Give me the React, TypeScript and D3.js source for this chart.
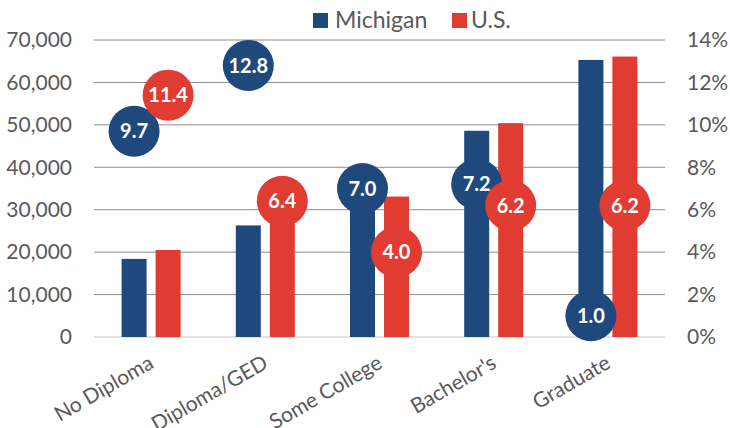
import { useMemo } from 'react'
import * as d3 from 'd3'

const categories = ['No Diploma', 'Diploma/GED', 'Some College', "Bachelor's", 'Graduate']
const seriesNames = ['Michigan', 'U.S.']
// median earnings (left axis, dollars)
const michiganEarnings = [18400, 26300, 32500, 48600, 65300]
const usEarnings = [20500, 30500, 33100, 50400, 66100]
// unemployment rate (right axis, percent)
const michiganRate = [9.7, 12.8, 7.0, 7.2, 1.0]
const usRate = [11.4, 6.4, 4.0, 6.2, 6.2]
const leftTicks = [0, 10000, 20000, 30000, 40000, 50000, 60000, 70000]
const rightTicks = [0, 2, 4, 6, 8, 10, 12, 14]

const width = 730
const height = 428
const plot = { left: 94, right: 665, top: 40, bottom: 337 }
const colors: Record<string, string> = { Michigan: '#1f497d', 'U.S.': '#e03c31' }
const textColor = '#595959'
const font = 'Lato, "Open Sans", sans-serif'

export default function App() {
  const scales = useMemo(() => {
    const x0 = d3.scaleBand<string>().domain(categories).range([plot.left, plot.right])
    const bw = x0.bandwidth()
    const x1 = d3
      .scaleBand<string>()
      .domain(seriesNames)
      .range([bw / 2 - 29.5, bw / 2 + 29.5])
      .paddingInner(0.2647)
    const yLeft = d3.scaleLinear().domain([0, 70000]).range([plot.bottom, plot.top])
    const yRight = d3.scaleLinear().domain([0, 14]).range([plot.bottom, plot.top])
    return { x0, x1, yLeft, yRight }
  }, [])

  const { x0, x1, yLeft, yRight } = scales
  const earnings: Record<string, number[]> = { Michigan: michiganEarnings, 'U.S.': usEarnings }
  const rates: Record<string, number[]> = { Michigan: michiganRate, 'U.S.': usRate }
  const fmt = d3.format(',')

  return (
    <svg
      width={width}
      height={height}
      style={{ position: 'absolute', left: 0, top: 0, fontFamily: font }}
    >
      <rect width={width} height={height} fill="#fff" />

      {leftTicks.map((t) => (
        <line
          key={t}
          x1={plot.left}
          x2={plot.right}
          y1={yLeft(t)}
          y2={yLeft(t)}
          stroke={t === 0 ? '#d9d9d9' : '#8c8c8c'}
          strokeWidth={t === 0 ? 1.5 : 1}
        />
      ))}

      {leftTicks.map((t) => (
        <text key={t} x={72} y={yLeft(t)} dy="0.35em" textAnchor="end" fontSize={21} fill={textColor}>
          {fmt(t)}
        </text>
      ))}
      {rightTicks.map((t) => (
        <text key={t} x={687} y={yRight(t)} dy="0.35em" textAnchor="start" fontSize={21} fill={textColor}>
          {`${t}%`}
        </text>
      ))}

      {seriesNames.map((s) => (
        <g key={s}>
          {categories.map((c, i) => (
            <rect
              key={c}
              x={(x0(c) ?? 0) + (x1(s) ?? 0)}
              y={yLeft(earnings[s][i])}
              width={x1.bandwidth()}
              height={plot.bottom - yLeft(earnings[s][i])}
              fill={colors[s]}
            />
          ))}
        </g>
      ))}

      {seriesNames.map((s) => (
        <g key={s}>
          {categories.map((c, i) => {
            const cx = (x0(c) ?? 0) + (x1(s) ?? 0) + x1.bandwidth() / 2
            const cy = yRight(rates[s][i])
            return (
              <g key={c}>
                <circle cx={cx} cy={cy} r={25.5} fill={colors[s]} />
                <text
                  x={cx}
                  y={cy}
                  dy="0.36em"
                  textAnchor="middle"
                  fontSize={20}
                  fontWeight="bold"
                  fill="#fff"
                >
                  {rates[s][i].toFixed(1)}
                </text>
              </g>
            )
          })}
        </g>
      ))}

      {categories.map((c) => (
        <text
          key={c}
          transform={`translate(${(x0(c) ?? 0) + x0.bandwidth() / 2 + 4},${367}) rotate(-30)`}
          textAnchor="end"
          fontSize={21}
          fill={textColor}
        >
          {c}
        </text>
      ))}

      <g>
        <rect x={313} y={13} width={15} height={15} fill={colors['Michigan']} />
        <text x={335} y={28} fontSize={23} fill={textColor}>
          Michigan
        </text>
        <rect x={452} y={13} width={15} height={15} fill={colors['U.S.']} />
        <text x={471} y={28} fontSize={23} fill={textColor}>
          U.S.
        </text>
      </g>
    </svg>
  )
}
